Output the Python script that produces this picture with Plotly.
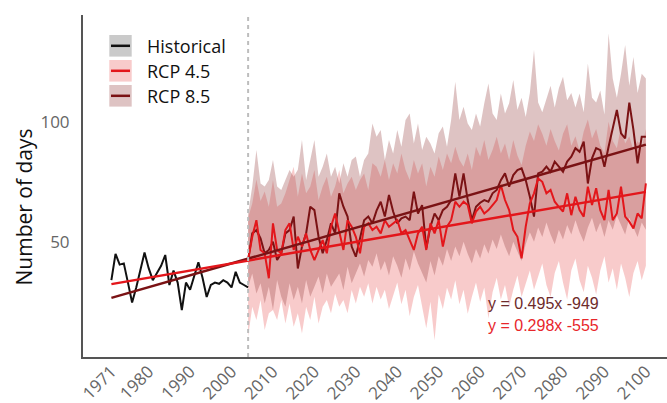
import plotly.graph_objects as go

# ---- data -------------------------------------------------------------
hist_years = list(range(1971, 2005))
hist_days = [34.0, 45.0, 40.5, 41.0, 33.0, 24.7, 31.0, 38.0, 45.5, 39.0,
             34.0, 37.0, 40.0, 44.5, 32.0, 38.0, 33.0, 21.5, 33.0, 30.0,
             36.0, 41.5, 35.0, 27.0, 32.0, 33.0, 32.5, 34.0, 33.0, 31.0,
             37.5, 33.0, 32.0, 31.0]

proj_years = list(range(2004, 2101))

rcp85_mean = [42.4, 53.5, 54.9, 51.4, 45.2, 46.6, 50.0, 42.4, 45.2, 53.5,
              54.9, 60.5, 38.9, 48.0, 53.5, 64.6, 63.2, 52.1, 45.2, 50.7,
              57.7, 53.5, 70.2, 64.6, 60.5, 48.0, 43.8, 52.1, 59.0, 60.5,
              57.7, 63.0, 66.7, 60.5, 69.5, 62.6, 57.7, 59.8, 60.5, 59.0,
              70.9, 61.8, 65.3, 47.3, 56.3, 61.8, 59.0, 63.2, 64.6, 67.4,
              78.5, 68.8, 78.5, 67.4, 59.0, 64.6, 66.3, 67.4, 66.7, 70.2,
              71.6, 75.7, 78.5, 73.0, 77.8, 79.9, 80.6, 75.7, 68.8, 60.5,
              78.5, 79.2, 81.3, 79.2, 83.4, 81.3, 79.2, 83.4, 85.5, 89.0,
              87.5, 91.7, 74.3, 84.8, 89.0, 88.2, 81.3, 89.6, 96.6, 104.9,
              95.2, 93.1, 108.0, 96.6, 82.7, 93.8, 93.8]

rcp45_mean = [42.4, 52.1, 59.0, 46.6, 45.2, 34.8, 57.7, 46.6, 45.2, 54.9,
              57.7, 46.6, 52.1, 48.0, 53.5, 46.6, 42.4, 46.6, 50.7, 45.2,
              56.3, 61.8, 53.5, 46.6, 59.0, 56.3, 52.1, 45.2, 56.3, 57.7,
              54.9, 56.3, 53.5, 59.0, 56.3, 57.7, 59.0, 53.5, 54.9, 50.7,
              46.6, 53.5, 56.3, 46.6, 57.7, 53.5, 59.0, 48.0, 56.3, 59.0,
              66.7, 64.6, 66.7, 65.3, 57.7, 62.6, 64.6, 61.8, 63.2, 65.3,
              67.4, 73.7, 67.4, 63.2, 54.9, 52.1, 43.1, 56.3, 66.0, 70.2,
              76.4, 75.0, 70.2, 71.6, 66.7, 64.6, 62.6, 70.2, 61.1, 68.8,
              63.2, 60.5, 73.0, 65.3, 72.3, 63.2, 59.0, 71.6, 59.0, 61.8,
              73.0, 60.5, 58.4, 55.6, 61.8, 59.8, 74.3]

rcp85_upper = [61.8, 73.0, 88.2, 74.3, 73.0, 75.7, 84.1, 73.0, 71.6, 75.7,
               79.9, 77.1, 80.0, 92.4, 75.7, 84.1, 92.4, 77.1, 81.3, 86.8,
               77.1, 81.3, 74.3, 82.7, 77.1, 84.1, 85.5, 77.1, 84.1, 86.8,
               99.3, 93.8, 96.6, 84.1, 92.4, 86.8, 96.6, 89.6, 100.7, 103.5,
               91.0, 99.3, 88.2, 93.8, 91.0, 86.8, 95.2, 98.0, 89.6, 100.7,
               116.7, 100.7, 106.3, 99.3, 96.6, 103.5, 98.0, 107.7, 116.0, 103.5,
               100.7, 111.8, 103.5, 107.7, 117.4, 105.0, 110.0, 102.0, 112.0, 129.9,
               108.0, 104.0, 110.0, 115.0, 106.0, 114.0, 118.8, 109.0, 112.0, 106.0,
               111.8, 104.0, 124.3, 110.0, 108.0, 113.0, 103.0, 136.8, 118.0, 110.0,
               120.0, 132.0, 115.0, 127.0, 112.0, 120.0, 118.0]

rcp85_lower = [31.3, 36.8, 28.5, 32.7, 24.3, 31.3, 21.6, 34.1, 27.1, 22.9,
               32.7, 25.7, 31.3, 24.3, 34.1, 27.1, 31.3, 35.5, 28.5, 36.8,
               31.3, 34.1, 36.8, 29.9, 39.6, 32.7, 36.8, 41.0, 35.5, 42.4,
               39.6, 45.2, 38.0, 42.0, 36.0, 44.0, 40.0, 35.0, 43.0, 38.0,
               46.0, 41.0, 37.0, 33.0, 42.0, 36.0, 44.0, 40.0, 47.0, 42.0,
               48.0, 44.0, 50.0, 45.0, 41.0, 47.0, 43.0, 49.0, 45.0, 51.0,
               47.0, 53.0, 48.0, 44.0, 50.0, 46.0, 42.0, 49.0, 54.0, 50.0,
               56.0, 52.0, 58.0, 53.0, 49.0, 55.0, 51.0, 57.0, 53.0, 59.0,
               54.0, 50.0, 56.0, 60.0, 54.0, 58.0, 52.0, 59.0, 55.0, 61.0,
               57.0, 53.0, 60.0, 56.0, 52.0, 58.0, 55.0]

rcp45_upper = [60.0, 66.0, 76.0, 67.0, 71.0, 64.6, 75.7, 64.6, 66.0, 70.2,
               75.7, 81.3, 68.8, 78.5, 70.2, 73.0, 79.9, 67.4, 73.0, 77.1,
               68.8, 73.0, 79.9, 70.2, 74.3, 77.1, 71.6, 75.7, 78.5, 71.6,
               82.7, 81.3, 77.1, 84.1, 75.7, 82.7, 78.5, 86.8, 79.9, 75.7,
               84.1, 78.5, 82.7, 73.0, 81.3, 77.1, 85.5, 79.9, 86.8, 82.7,
               89.6, 84.1, 81.3, 86.8, 79.9, 89.6, 85.5, 92.4, 84.1, 88.2,
               93.8, 86.8, 91.0, 84.1, 92.4, 86.0, 82.0, 90.0, 96.0, 92.0,
               99.0, 95.0, 90.0, 97.0, 92.0, 88.0, 95.0, 99.0, 90.0, 94.0,
               88.0, 96.0, 101.0, 93.0, 97.0, 90.0, 87.0, 100.0, 92.0, 89.0,
               98.0, 91.0, 94.0, 88.0, 92.0, 89.0, 97.0]

rcp45_lower = [10.4, 22.9, 17.4, 25.7, 13.2, 20.2, 21.6, 17.4, 25.7, 16.0,
               24.3, 14.6, 20.2, 11.8, 22.9, 17.4, 27.1, 16.0, 22.9, 25.7,
               20.2, 28.5, 22.9, 25.7, 20.2, 29.9, 24.3, 31.3, 27.1, 32.7,
               24.3, 31.3, 26.0, 30.0, 22.0, 28.0, 33.0, 24.0, 30.0, 19.0,
               27.0, 32.0, 23.0, 14.0, 25.0, 9.0, 28.0, 22.0, 31.0, 26.0,
               34.0, 24.0, 30.0, 20.0, 27.0, 33.0, 25.0, 31.0, 18.0, 29.0,
               35.0, 26.0, 32.0, 23.0, 30.0, 36.0, 27.0, 33.0, 38.0, 30.0,
               36.0, 41.0, 32.0, 27.0, 37.0, 42.0, 33.0, 26.0, 38.0, 43.0,
               34.0, 29.0, 40.0, 35.0, 28.0, 38.0, 44.0, 33.0, 39.0, 30.0,
               41.0, 35.0, 27.0, 37.0, 42.0, 34.0, 40.0]

# linear trends (year -> days)
trend_85 = (0.495, -949)
trend_45 = (0.298, -555)
trend_span = [1971, 2100]

x_tick_vals = [1971, 1980, 1990, 2000, 2010, 2020, 2030, 2040, 2050,
               2060, 2070, 2080, 2090, 2100]
y_tick_vals = [50, 100]
scenario_start = 2004

# ---- styling ----------------------------------------------------------
W, H = 667, 403
M_L, M_R, M_T, M_B = 83, 0, 15, 46
PLOT_W, PLOT_H = W - M_L - M_R, H - M_T - M_B

C_HIST = "#111111"
C_45 = "#e3161b"
C_85 = "#7a1214"
FILL_45 = "rgba(236,110,110,0.36)"
FILL_85 = "rgba(150,62,62,0.31)"
FILL_HIST = "rgba(150,150,150,0.50)"
AXIS_FONT = "Open Sans"


def px_x(px):
    return (px - M_L) / PLOT_W


def px_y(py):
    return (H - M_B - py) / PLOT_H


fig = go.Figure()


def add_band(years, lower, upper, color):
    fig.add_trace(go.Scatter(x=years, y=lower, mode="lines",
                             line=dict(width=0), hoverinfo="skip",
                             showlegend=False))
    fig.add_trace(go.Scatter(x=years, y=upper, mode="lines",
                             line=dict(width=0), fill="tonexty",
                             fillcolor=color, hoverinfo="skip",
                             showlegend=False))


add_band(proj_years, rcp45_lower, rcp45_upper, FILL_45)
add_band(proj_years, rcp85_lower, rcp85_upper, FILL_85)

fig.add_trace(go.Scatter(x=hist_years, y=hist_days, mode="lines",
                         line=dict(color=C_HIST, width=2), showlegend=False))
fig.add_trace(go.Scatter(x=proj_years, y=rcp85_mean, mode="lines",
                         line=dict(color=C_85, width=2), showlegend=False))
fig.add_trace(go.Scatter(x=proj_years, y=rcp45_mean, mode="lines",
                         line=dict(color=C_45, width=2), showlegend=False))

for (slope, icpt), col in ((trend_85, C_85), (trend_45, C_45)):
    fig.add_trace(go.Scatter(x=trend_span,
                             y=[slope * yr + icpt for yr in trend_span],
                             mode="lines", line=dict(color=col, width=2.5),
                             showlegend=False))

shapes = [dict(type="line", xref="x", yref="paper", x0=scenario_start,
               x1=scenario_start, y0=0, y1=1,
               line=dict(color="#bdbdbd", width=2, dash="4px,4px"))]

annotations = []

# legend: swatch + line + label
legend_items = [("Historical", FILL_HIST, C_HIST),
                ("RCP 4.5", FILL_45, C_45),
                ("RCP 8.5", FILL_85, C_85)]
for i, (label, fill, col) in enumerate(legend_items):
    cy = 45.8 + 25 * i
    shapes.append(dict(type="rect", xref="paper", yref="paper",
                       x0=px_x(109.3), x1=px_x(131.7),
                       y0=px_y(cy + 10.8), y1=px_y(cy - 10.8),
                       fillcolor=fill, line=dict(width=0)))
    shapes.append(dict(type="line", xref="paper", yref="paper",
                       x0=px_x(111), x1=px_x(130), y0=px_y(cy), y1=px_y(cy),
                       line=dict(color=col, width=2.5)))
    annotations.append(dict(xref="paper", yref="paper", x=px_x(145),
                            y=px_y(cy), text=label, showarrow=False,
                            xanchor="left", yanchor="middle",
                            font=dict(family=AXIS_FONT, size=18,
                                      color="#111111")))

# trend equations
for j, ((slope, icpt), col) in enumerate(((trend_85, "#6e2b2b"),
                                          (trend_45, "#e8262b"))):
    annotations.append(dict(xref="paper", yref="paper", x=px_x(486),
                            y=px_y(303.5 + 21.7 * j),
                            text=f"y = {slope:g}x {icpt:d}",
                            showarrow=False, xanchor="left",
                            yanchor="middle",
                            font=dict(family="Liberation Sans", size=16,
                                      color=col)))

# y-axis title, centred a little below the middle of the plot area
annotations.append(dict(xref="paper", yref="paper", x=px_x(23),
                        y=px_y(207.5), text="Number of days",
                        textangle=-90, showarrow=False,
                        xanchor="center", yanchor="middle",
                        font=dict(family=AXIS_FONT, size=21,
                                  color="#111111")))

fig.update_layout(
    width=W, height=H,
    margin=dict(l=M_L, r=M_R, t=M_T, b=M_B, pad=0),
    paper_bgcolor="white", plot_bgcolor="white",
    showlegend=False,
    shapes=shapes, annotations=annotations,
    font=dict(family=AXIS_FONT),
)

fig.update_xaxes(range=[1964.15, 2105.1], showgrid=False, zeroline=False,
                 showline=True, linecolor="#555555", linewidth=2,
                 tickvals=x_tick_vals, ticktext=[str(v) for v in x_tick_vals],
                 tickangle=-45, ticks="", ticklabelstandoff=-4,
                 tickfont=dict(family=AXIS_FONT, size=17, color="#666666"),
                 automargin=False)
fig.update_yaxes(range=[2, 144.5], showgrid=False, zeroline=False,
                 showline=True, linecolor="#555555", linewidth=2,
                 tickvals=y_tick_vals, ticks="", ticklabelstandoff=8,
                 tickfont=dict(family=AXIS_FONT, size=17, color="#666666"),
                 automargin=False)

fig.write_html("out.html")
